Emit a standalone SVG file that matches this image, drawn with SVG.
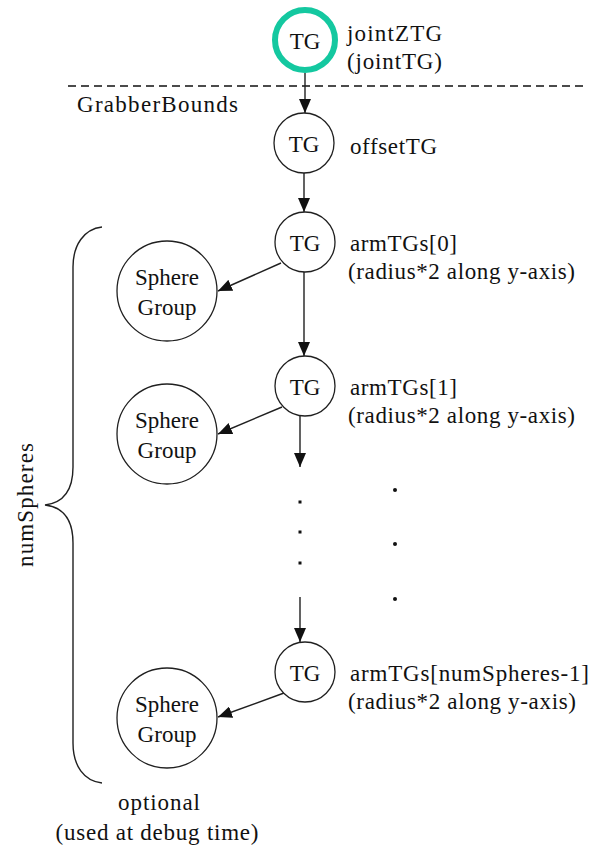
<svg xmlns="http://www.w3.org/2000/svg" width="592" height="854" viewBox="0 0 592 854">
  <style>
    .node { fill: #ffffff; stroke: #202020; stroke-width: 1.3; }
    .joint { fill: #ffffff; stroke: #14c8a0; stroke-width: 6; }
    .t { font-family: "Liberation Serif", "Times New Roman", serif; font-size: 23px; fill: #111111; }
    .c { text-anchor: middle; }
    .edge { stroke: #202020; stroke-width: 1.4; fill: none; }
    .dot { fill: #111111; }
  </style>
  <defs>
    <marker id="arrow" viewBox="0 0 14 12" refX="14" refY="6" markerWidth="14" markerHeight="12" markerUnits="userSpaceOnUse" orient="auto">
      <path d="M0,0 L14,6 L0,12 z" fill="#111111"/>
    </marker>
  </defs>

  <rect width="592" height="854" fill="#ffffff"/>

  <!-- bounds separator -->
  <g id="grabber-bounds">
    <line x1="68" y1="86" x2="588" y2="86" stroke="#111111" stroke-width="1.3" stroke-dasharray="8 5"/>
    <text class="t" x="77" y="112" textLength="161" lengthAdjust="spacing">GrabberBounds</text>
  </g>

  <!-- connectors -->
  <g id="connectors">
    <line class="edge" x1="305" y1="73" x2="305" y2="113" marker-end="url(#arrow)"/>
    <line class="edge" x1="304" y1="173" x2="304" y2="212" marker-end="url(#arrow)"/>
    <line class="edge" x1="281" y1="263" x2="218" y2="291" marker-end="url(#arrow)"/>
    <line class="edge" x1="304" y1="272" x2="304" y2="356" marker-end="url(#arrow)"/>
    <line class="edge" x1="282" y1="407" x2="218" y2="434" marker-end="url(#arrow)"/>
    <line class="edge" x1="300" y1="416" x2="300" y2="467" marker-end="url(#arrow)"/>
    <line class="edge" x1="300" y1="597" x2="300" y2="642" marker-end="url(#arrow)"/>
    <line class="edge" x1="284" y1="693" x2="218" y2="717" marker-end="url(#arrow)"/>
  </g>

  <!-- continuation dots -->
  <g id="ellipsis">
    <rect class="dot" x="298.5" y="500.5" width="3" height="3"/>
    <rect class="dot" x="298.5" y="530.5" width="3" height="3"/>
    <rect class="dot" x="298.5" y="561.5" width="3" height="3"/>
    <circle class="dot" cx="395" cy="490" r="2"/>
    <circle class="dot" cx="395" cy="544" r="2"/>
    <circle class="dot" cx="395" cy="599" r="2"/>
  </g>

  <g id="jointZTG">
    <circle class="joint" cx="305" cy="40" r="30"/>
    <text class="t c" x="305" y="49">TG</text>
    <text class="t" x="347" y="41" textLength="95" lengthAdjust="spacing">jointZTG</text>
    <text class="t" x="347" y="69" textLength="95" lengthAdjust="spacing">(jointTG)</text>
  </g>

  <g id="offsetTG">
    <circle class="node" cx="304" cy="143" r="30"/>
    <text class="t c" x="304" y="152">TG</text>
    <text class="t" x="350" y="154" textLength="87" lengthAdjust="spacing">offsetTG</text>
  </g>

  <g id="armTG0">
    <circle class="node" cx="305" cy="242" r="30"/>
    <text class="t c" x="305" y="251">TG</text>
    <text class="t" x="350" y="251" textLength="107" lengthAdjust="spacing">armTGs[0]</text>
    <text class="t" x="348" y="279" textLength="227" lengthAdjust="spacing">(radius*2 along y-axis)</text>
  </g>

  <g id="armTG1">
    <circle class="node" cx="305" cy="386" r="30"/>
    <text class="t c" x="305" y="395">TG</text>
    <text class="t" x="350" y="395" textLength="107" lengthAdjust="spacing">armTGs[1]</text>
    <text class="t" x="348" y="423" textLength="227" lengthAdjust="spacing">(radius*2 along y-axis)</text>
  </g>

  <g id="armTGLast">
    <circle class="node" cx="305" cy="672" r="30"/>
    <text class="t c" x="305" y="681">TG</text>
    <text class="t" x="350" y="681" textLength="239" lengthAdjust="spacing">armTGs[numSpheres-1]</text>
    <text class="t" x="348" y="709" textLength="228" lengthAdjust="spacing">(radius*2 along y-axis)</text>
  </g>

  <g id="sphere0">
    <circle class="node" cx="167" cy="291" r="50"/>
    <text class="t c" x="167" y="285">Sphere</text>
    <text class="t c" x="167" y="315">Group</text>
  </g>

  <g id="sphere1">
    <circle class="node" cx="167" cy="434" r="50"/>
    <text class="t c" x="167" y="428">Sphere</text>
    <text class="t c" x="167" y="458">Group</text>
  </g>

  <g id="sphereLast">
    <circle class="node" cx="167" cy="718" r="50"/>
    <text class="t c" x="167" y="712">Sphere</text>
    <text class="t c" x="167" y="742">Group</text>
  </g>

  <!-- brace spanning the repeated arm/sphere pairs -->
  <g id="numSpheres">
    <path class="edge" d="M102,227 C84,229 73,245 73,267 L73,467 C73,492 62,503 45,505 C62,507 73,518 73,543 L73,743 C73,766 84,781 102,783"/>
    <text class="t c" transform="translate(33,505) rotate(-90)" textLength="124" lengthAdjust="spacing">numSpheres</text>
  </g>

  <g id="optional-note">
    <text class="t c" x="159" y="810" textLength="82" lengthAdjust="spacing">optional</text>
    <text class="t c" x="157" y="840" textLength="203" lengthAdjust="spacing">(used at debug time)</text>
  </g>
</svg>
